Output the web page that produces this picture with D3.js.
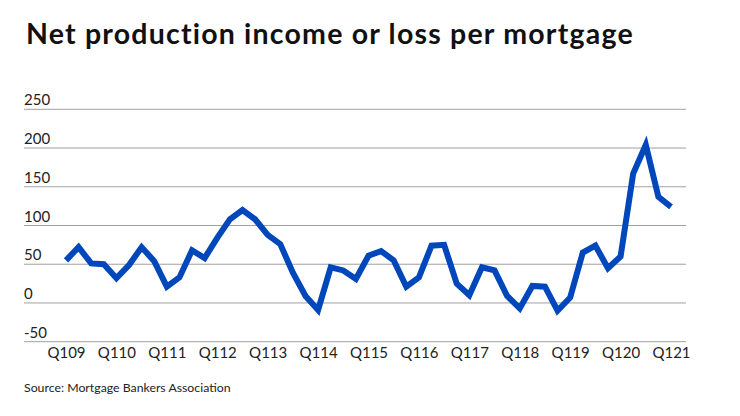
<!DOCTYPE html>
<html>
<head>
<meta charset="utf-8">
<script src="https://cdn.jsdelivr.net/npm/d3@7"></script>
<style>
  html, body { margin: 0; padding: 0; background: #fff; }
  svg { display: block; font-family: Lato, "Open Sans", sans-serif; }
</style>
</head>
<body>
<svg id="chart" width="740" height="416"></svg>
<script>
const title = "Net production income or loss per mortgage";
const source = "Source: Mortgage Bankers Association";
const years = ["09","10","11","12","13","14","15","16","17","18","19","20","21"];
const quarters = [];
years.forEach((y, i) => {
  const qs = i === years.length - 1 ? [1] : [1, 2, 3, 4];
  qs.forEach(q => quarters.push("Q" + q + y));
});
const values = [
  55, 72, 51, 50, 32, 49, 72, 54, 21, 33, 68, 58,
  84, 108, 120, 108, 88, 76, 39, 9, -9, 46, 42, 31,
  61, 67, 55, 21, 33, 74, 75, 25, 10, 46, 42, 9,
  -7, 22, 21, -10, 7, 65, 74, 45, 60, 167, 204, 137,
  124
];
const yTicks = [-50, 0, 50, 100, 150, 200, 250];
const xTickLabels = quarters.filter(q => q.startsWith("Q1"));

const svg = d3.select("#chart");

svg.append("text")
  .attr("x", 26).attr("y", 44)
  .attr("font-size", 28.5).attr("font-weight", 700)
  .attr("letter-spacing", 1.2)
  .attr("fill", "#111")
  .text(title);

const gridLeft = 24, gridRight = 686;
const x = d3.scalePoint().domain(quarters).range([66, 671]);
const y = d3.scaleLinear().domain([-50, 250]).range([341.7, 109.3]);

const grid = svg.append("g");
grid.selectAll("line").data(yTicks).join("line")
  .attr("x1", gridLeft).attr("x2", gridRight)
  .attr("y1", d => y(d)).attr("y2", d => y(d))
  .attr("stroke", "#a0a0a0").attr("stroke-width", 1);
grid.selectAll("text").data(yTicks).join("text")
  .attr("x", gridLeft).attr("y", d => y(d) - 4)
  .attr("font-size", 15).attr("fill", "#222")
  .text(d => d);

const xAxis = d3.axisBottom(x).tickValues(xTickLabels).tickSize(0).tickPadding(0);
const gx = svg.append("g").attr("transform", "translate(0,346)").call(xAxis);
gx.select(".domain").remove();
gx.selectAll("text")
  .attr("font-size", 15).attr("fill", "#222")
  .attr("font-family", "Lato, sans-serif")
  .attr("dy", "0.8em");

const line = d3.line().x((d, i) => x(quarters[i])).y(d => y(d));
svg.append("path")
  .datum(values)
  .attr("d", line)
  .attr("fill", "none")
  .attr("stroke", "#0047bb")
  .attr("stroke-width", 6)
  .attr("stroke-linejoin", "miter")
  .attr("stroke-linecap", "butt");

svg.append("text")
  .attr("x", 24).attr("y", 392)
  .attr("font-size", 12.3).attr("fill", "#222")
  .text(source);
</script>
</body>
</html>
